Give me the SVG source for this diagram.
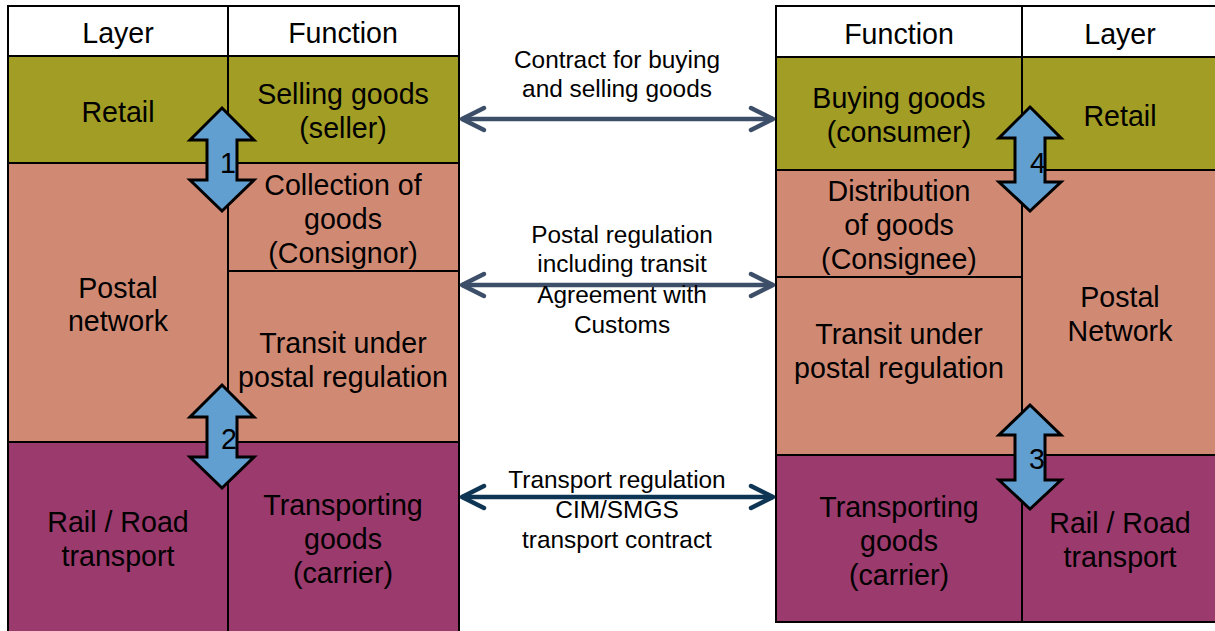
<svg xmlns="http://www.w3.org/2000/svg" width="1215" height="631" viewBox="0 0 1215 631">
<style>
.cell{stroke:#000;stroke-width:2}
.hd{fill:#fff}
.rt{fill:#a29d25}
.ps{fill:#d08a74}
.tr{fill:#9b3a6c}
text{font-family:"Liberation Sans",Arial,sans-serif;fill:#000;text-anchor:middle}
.t{font-size:28.6px}
.m{font-size:24.4px}
.blk{fill:#629fd1;stroke:#000;stroke-width:3;stroke-linejoin:miter}
.con{fill:none;stroke-width:4.5}
.c1{stroke:#3d4e68}
.c2{stroke:#0e3554}
</style>
<defs>
<marker id="ch1" markerUnits="userSpaceOnUse" markerWidth="40" markerHeight="40" orient="auto-start-reverse" overflow="visible" refX="0" refY="0">
<path d="M -22 -11 L 0 0 L -22 11" fill="none" stroke="#3d4e68" stroke-width="4.5" stroke-linecap="round" stroke-linejoin="round"/>
</marker>
<marker id="ch2" markerUnits="userSpaceOnUse" markerWidth="40" markerHeight="40" orient="auto-start-reverse" overflow="visible" refX="0" refY="0">
<path d="M -22 -11 L 0 0 L -22 11" fill="none" stroke="#0e3554" stroke-width="4.5" stroke-linecap="round" stroke-linejoin="round"/>
</marker>
</defs>

<g id="left-table">
<g id="l-head-layer"><rect class="cell hd" x="8" y="6" width="220" height="50"/><text class="t" x="118" y="43">Layer</text></g>
<g id="l-head-function"><rect class="cell hd" x="228" y="6" width="231" height="50"/><text class="t" x="343" y="43">Function</text></g>
<g id="l-retail"><rect class="cell rt" x="8" y="56" width="220" height="107"/><text class="t" x="118" y="122">Retail</text></g>
<g id="l-selling"><rect class="cell rt" x="228" y="56" width="231" height="107"/><text class="t" x="343" y="104">Selling goods</text><text class="t" x="343" y="138">(seller)</text></g>
<g id="l-postal"><rect class="cell ps" x="8" y="163" width="220" height="279"/><text class="t" x="118" y="298">Postal</text><text class="t" x="118" y="331">network</text></g>
<g id="l-collection"><rect class="cell ps" x="228" y="163" width="231" height="108"/><text class="t" x="343" y="195">Collection of</text><text class="t" x="343" y="229">goods</text><text class="t" x="343" y="263">(Consignor)</text></g>
<g id="l-transit"><rect class="cell ps" x="228" y="271" width="231" height="171"/><text class="t" x="343" y="353">Transit under</text><text class="t" x="343" y="387">postal regulation</text></g>
<g id="l-rail"><rect class="cell tr" x="8" y="442" width="220" height="200"/><text class="t" x="118" y="532">Rail / Road</text><text class="t" x="118" y="566">transport</text></g>
<g id="l-transport"><rect class="cell tr" x="228" y="442" width="231" height="200"/><text class="t" x="343" y="515">Transporting</text><text class="t" x="343" y="549">goods</text><text class="t" x="343" y="583">(carrier)</text></g>
</g>

<g id="right-table">
<g id="r-head-function"><rect class="cell hd" x="776" y="6" width="246" height="51"/><text class="t" x="899" y="44">Function</text></g>
<g id="r-head-layer"><rect class="cell hd" x="1022" y="6" width="196" height="51"/><text class="t" x="1120" y="44">Layer</text></g>
<g id="r-buying"><rect class="cell rt" x="776" y="57" width="246" height="113"/><text class="t" x="899" y="108">Buying goods</text><text class="t" x="899" y="142">(consumer)</text></g>
<g id="r-retail"><rect class="cell rt" x="1022" y="57" width="196" height="113"/><text class="t" x="1120" y="126">Retail</text></g>
<g id="r-distribution"><rect class="cell ps" x="776" y="170" width="246" height="107"/><text class="t" x="899" y="201">Distribution</text><text class="t" x="899" y="235">of goods</text><text class="t" x="899" y="269">(Consignee)</text></g>
<g id="r-postal"><rect class="cell ps" x="1022" y="170" width="196" height="285"/><text class="t" x="1120" y="307">Postal</text><text class="t" x="1120" y="341">Network</text></g>
<g id="r-transit"><rect class="cell ps" x="776" y="277" width="246" height="178"/><text class="t" x="899" y="344">Transit under</text><text class="t" x="899" y="378">postal regulation</text></g>
<g id="r-transport"><rect class="cell tr" x="776" y="455" width="246" height="167"/><text class="t" x="899" y="517">Transporting</text><text class="t" x="899" y="551">goods</text><text class="t" x="899" y="585">(carrier)</text></g>
<g id="r-rail"><rect class="cell tr" x="1022" y="455" width="196" height="167"/><text class="t" x="1120" y="533">Rail / Road</text><text class="t" x="1120" y="567">transport</text></g>
</g>

<g id="block-arrows">
<g id="arrow-1"><polygon class="blk" points="222,108 254,140 237,140 237,180 254,180 222,211 190,180 207,180 207,140 190,140"/><text class="t" x="228" y="173">1</text></g>
<g id="arrow-2"><polygon class="blk" points="222,385 254,417 237,417 237,457 254,457 222,488 190,457 207,457 207,417 190,417"/><text class="t" x="229" y="449">2</text></g>
<g id="arrow-3"><polygon class="blk" points="1030,405 1061,435 1045,435 1045,480 1061,480 1030,509 999,480 1015,480 1015,435 999,435"/><text class="t" x="1037" y="469">3</text></g>
<g id="arrow-4"><polygon class="blk" points="1030,107 1061,138 1045,138 1045,182 1061,182 1030,211 999,182 1015,182 1015,138 999,138"/><text class="t" x="1038" y="173">4</text></g>
</g>

<g id="connectors">
<g id="con-contract">
<line class="con c1" x1="462" y1="119" x2="773" y2="119" marker-start="url(#ch1)" marker-end="url(#ch1)"/>
<text class="m" x="617" y="68">Contract for buying</text>
<text class="m" x="617" y="97">and selling goods</text>
</g>
<g id="con-postal">
<line class="con c1" x1="462" y1="285" x2="773" y2="285" marker-start="url(#ch1)" marker-end="url(#ch1)"/>
<text class="m" x="622" y="243">Postal regulation</text>
<text class="m" x="622" y="272">including transit</text>
<text class="m" x="622" y="303">Agreement with</text>
<text class="m" x="622" y="333">Customs</text>
</g>
<g id="con-transport">
<line class="con c2" x1="462" y1="497" x2="773" y2="497" marker-start="url(#ch2)" marker-end="url(#ch2)"/>
<text class="m" x="617" y="488">Transport regulation</text>
<text class="m" x="617" y="518">CIM/SMGS</text>
<text class="m" x="617" y="548">transport contract</text>
</g>
</g>
</svg>
